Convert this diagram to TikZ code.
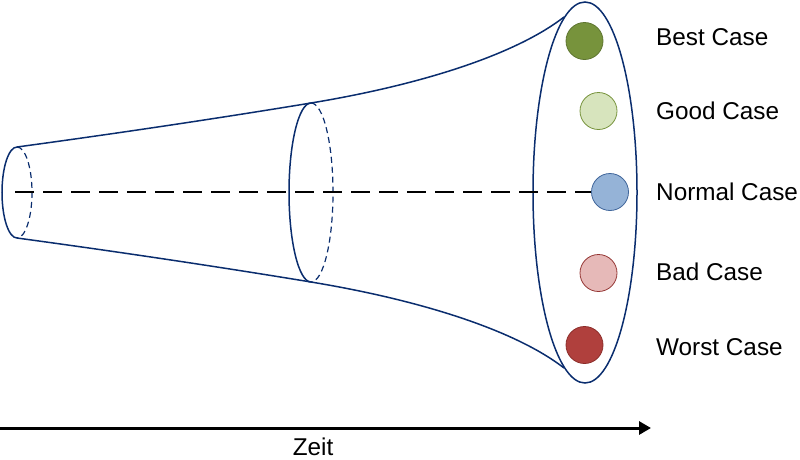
\documentclass[tikz,border=0pt]{standalone}
\usepackage{fontspec}
\setmainfont{Liberation Sans}
\usetikzlibrary{arrows.meta}
\definecolor{navy}{RGB}{10,45,110}
\definecolor{bestf}{HTML}{77933C}\definecolor{bestd}{HTML}{5E7530}
\definecolor{goodf}{HTML}{D7E4BD}\definecolor{goodd}{HTML}{77933C}
\definecolor{normf}{HTML}{95B3D7}\definecolor{normd}{HTML}{3F659A}
\definecolor{badf}{HTML}{E6B9B8}\definecolor{badd}{HTML}{953735}
\definecolor{worstf}{HTML}{B0403D}\definecolor{worstd}{HTML}{8C2D2A}
\tikzset{
  funnel/.style={draw=navy, line width=1.5pt},
  hidden/.style={draw=navy, line width=1.2pt, dash pattern=on 6pt off 4pt},
  casedot/.style={circle, minimum size=37pt, inner sep=0pt, line width=0.8pt},
  caselabel/.style={anchor=base west, inner sep=0pt, font=\fontsize{24.3}{28}\selectfont},
}
\begin{document}
\begin{tikzpicture}[x=1pt,y=-1pt]
\useasboundingbox (0,0) rectangle (800,459);
% funnel outline
\draw[funnel] (17,147) .. controls (120,133) and (220,118) .. (311,103)
  .. controls (420,85) and (515,55) .. (564,17);
\draw[funnel] (17,238) .. controls (120,252) and (220,267) .. (311,282)
  .. controls (420,300) and (515,330) .. (564,368);
% left ellipse
\draw[funnel] (17,147) arc[start angle=90, end angle=270, x radius=15, y radius=-45.5];
\draw[hidden] (17,147) arc[start angle=90, end angle=-90, x radius=15, y radius=-45.5];
% middle ellipse
\draw[funnel] (311,103) arc[start angle=90, end angle=270, x radius=22, y radius=-89.5];
\draw[hidden] (311,103) arc[start angle=90, end angle=-90, x radius=22, y radius=-89.5];
% big ellipse
\draw[funnel] (585,192.5) ellipse[x radius=52, y radius=190.5];
% circles
\node[casedot, fill=bestf, draw=bestd] (best) at (584.5,41) {};
\node[casedot, fill=goodf, draw=goodd] (good) at (598.5,111) {};
\node[casedot, fill=normf, draw=normd] (normal) at (610,192) {};
\node[casedot, fill=badf, draw=badd] (bad) at (598.5,273) {};
\node[casedot, fill=worstf, draw=worstd] (worst) at (584.5,345) {};
% centre line
\coordinate (start) at (15,192);
\draw[black, line width=2.5pt, dash pattern=on 19pt off 9pt] (start) -- (normal.west);
% labels
\node[caselabel] (lbest) at (656,45) {Best Case};
\node[caselabel] (lgood) at (656,119) {Good Case};
\node[caselabel] (lnormal) at (656,200) {Normal Case};
\node[caselabel] (lbad) at (656,280) {Bad Case};
\node[caselabel] (lworst) at (656,355) {Worst Case};
% time axis
\coordinate (t0) at (0,428);
\coordinate (t1) at (651,428);
\draw[black, line width=3pt, -{Triangle[length=12pt,width=13pt]}] (t0) -- (t1);
\node[caselabel, anchor=base] (zeit) at (313,455) {Zeit};
\end{tikzpicture}
\end{document}
